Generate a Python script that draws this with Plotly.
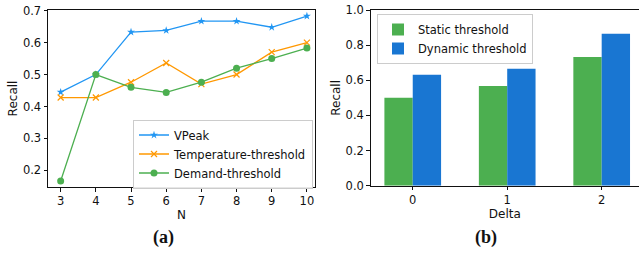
import plotly.graph_objects as go

# ---- data ----
n_values = [3, 4, 5, 6, 7, 8, 9, 10]
vpeak = [0.445, 0.500, 0.633, 0.638, 0.667, 0.667, 0.648, 0.683]
temp_threshold = [0.428, 0.428, 0.476, 0.536, 0.470, 0.500, 0.570, 0.600]
demand_threshold = [0.167, 0.500, 0.460, 0.444, 0.476, 0.520, 0.550, 0.583]

delta_values = [0, 1, 2]
static_threshold = [0.500, 0.568, 0.733]
dynamic_threshold = [0.632, 0.665, 0.865]

FONT = "DejaVu Sans"
W, H = 639, 254


def px(x):
    return x / W


def py(y):
    return (H - y) / H


fig = go.Figure()

fig.add_trace(go.Scatter(x=n_values, y=vpeak, name="VPeak", mode="lines+markers",
                         line=dict(color="#2196F3", width=1.3),
                         marker=dict(symbol="star", size=6, color="#2196F3"),
                         xaxis="x", yaxis="y"))
fig.add_trace(go.Scatter(x=n_values, y=temp_threshold, name="Temperature-threshold", mode="lines+markers",
                         line=dict(color="#FF9800", width=1.3),
                         marker=dict(symbol="x-thin", size=6, color="#FF9800", line=dict(color="#FF9800", width=1.2)),
                         xaxis="x", yaxis="y"))
fig.add_trace(go.Scatter(x=n_values, y=demand_threshold, name="Demand-threshold", mode="lines+markers",
                         line=dict(color="#4CAF50", width=1.3),
                         marker=dict(symbol="circle", size=7, color="#4CAF50"),
                         xaxis="x", yaxis="y", legend="legend"))

fig.add_trace(go.Bar(x=delta_values, y=static_threshold, name="Static threshold",
                     marker=dict(color="#4CAF50", line=dict(width=0)),
                     xaxis="x2", yaxis="y2", legend="legend2"))
fig.add_trace(go.Bar(x=delta_values, y=dynamic_threshold, name="Dynamic threshold",
                     marker=dict(color="#1976D2", line=dict(width=0)),
                     xaxis="x2", yaxis="y2", legend="legend2"))

tick_font = dict(family=FONT, size=11.5, color="#111111")
title_font = dict(family=FONT, size=12, color="#111111")

common_axis = dict(showgrid=False, zeroline=False, ticks="outside", ticklen=3.5,
                   tickwidth=1, tickcolor="#111111", tickfont=tick_font,
                   linecolor="#111111", linewidth=1, showline=True, automargin=False)

fig.update_layout(
    width=W, height=H,
    margin=dict(l=0, r=0, t=0, b=0, pad=0),
    paper_bgcolor="white", plot_bgcolor="white",
    font=dict(family=FONT, size=11.5, color="#111111"),
    barmode="group", bargap=0.4, bargroupgap=0,
    xaxis=dict(domain=[px(48), px(315)], range=[2.64, 10.23], tickvals=n_values,
               mirror=True, anchor="y",
               title=dict(text="N", font=title_font, standoff=3), **common_axis),
    yaxis=dict(domain=[py(187), py(10)], range=[0.148, 0.702],
               tickvals=[0.2, 0.3, 0.4, 0.5, 0.6, 0.7], tickformat=".1f",
               mirror=True, anchor="x",
               title=dict(text="Recall", font=title_font, standoff=2), **common_axis),
    xaxis2=dict(domain=[px(370.7), 1.0], range=[-0.445, 2.395], tickvals=delta_values,
                mirror=True, anchor="y2",
                title=dict(text="Delta", font=title_font, standoff=3), **common_axis),
    yaxis2=dict(domain=[py(185.7), py(10)], range=[0, 1.0],
                tickvals=[0, 0.2, 0.4, 0.6, 0.8, 1.0], tickformat=".1f",
                anchor="x2",
                title=dict(text="Recall", font=title_font, standoff=2), **common_axis),
    legend=dict(x=px(313), y=py(154), xanchor="right", yanchor="middle",
                bgcolor="rgba(255,255,255,0.9)", bordercolor="#cccccc", borderwidth=1,
                font=dict(family=FONT, size=11.5, color="#111111"),
                itemwidth=30, tracegroupgap=0),
    legend2=dict(x=px(377), y=py(14), xanchor="left", yanchor="top",
                 bgcolor="rgba(255,255,255,0.9)", bordercolor="#cccccc", borderwidth=1,
                 font=dict(family=FONT, size=11.5, color="#111111"),
                 itemwidth=30, tracegroupgap=0),
    showlegend=True,
    annotations=[
        dict(text="<b>(a)</b>", x=px(163.5), y=py(237), xref="paper", yref="paper",
             xanchor="center", yanchor="middle",
             showarrow=False, font=dict(family="Liberation Serif", size=18, color="#111111")),
        dict(text="<b>(b)</b>", x=px(485.5), y=py(237), xref="paper", yref="paper",
             xanchor="center", yanchor="middle",
             showarrow=False, font=dict(family="Liberation Serif", size=18, color="#111111")),
    ],
)

fig.write_html("out.html", config={"displayModeBar": False},
               post_script="document.body.style.margin='0px';document.body.style.overflow='hidden';")
